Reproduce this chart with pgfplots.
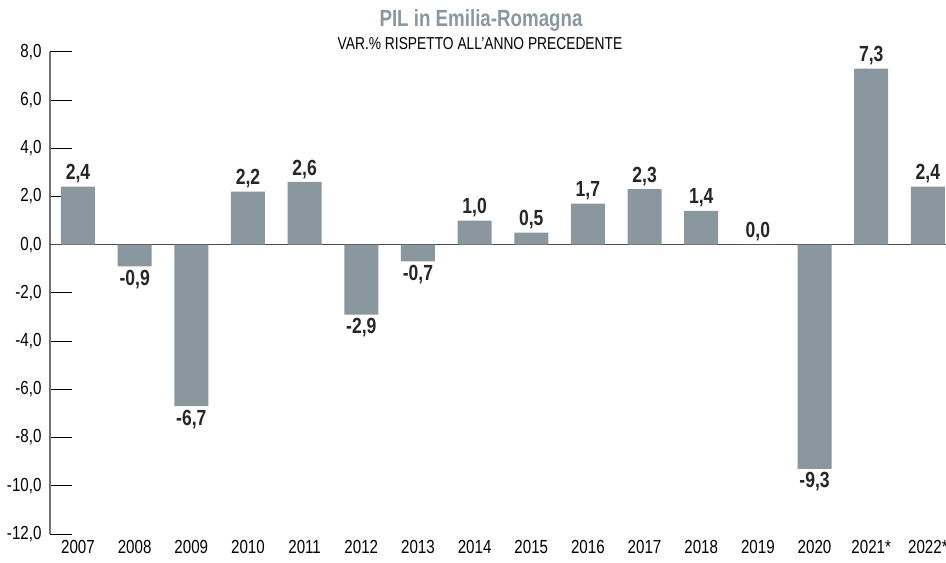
\documentclass[border=0pt]{standalone}
\usepackage{pgfplots}
\pgfplotsset{compat=1.18}
\usepackage{fontspec}
\setmainfont{Liberation Sans}[FakeStretch=0.8]
\definecolor{barc}{HTML}{8A979F}
\begin{document}
\begin{tikzpicture}
\begin{axis}[
  name=ax, at={(0,0)}, anchor=south west,
  scale only axis, width=896bp, height=482.3bp,
  xmin=-0.494, xmax=15.32, ymin=-12, ymax=8,
  axis y line*=left, axis x line*=bottom,
  x axis line style={draw=none},
  y axis line style={-, draw=black!55, line width=1.3pt},
  xtick={0,...,15},
  xticklabels={2007,2008,2009,2010,2011,2012,2013,2014,2015,2016,2017,2018,2019,2020,2021*,2022*},
  xtick style={draw=none},
  ytick={-12,-10,...,8},
  ytick style={draw=black, line width=0.8pt},
  tick align=inside, major tick length=22bp,
  /pgf/number format/assume math mode=true,
  yticklabel style={font=\fontsize{19}{19}\selectfont, xshift=-5bp, /pgf/number format/.cd, fixed, fixed zerofill, precision=1, use comma},
  xticklabel style={font=\fontsize{19}{19}\selectfont, anchor=north, yshift=19bp},
  ybar, bar width=0.6,
  nodes near coords,
  every node near coord/.append style={font=\bfseries\fontsize{22}{22}\selectfont, black!85, /pgf/number format/.cd, fixed, fixed zerofill, precision=1, use comma, assume math mode=true},
  clip=false,
]
\draw[line width=1pt, draw=black!70] (axis cs:-0.494,0) -- (axis cs:15.32,0);
\addplot[fill=barc, draw=none] coordinates {
 (0,2.4) (1,-0.9) (2,-6.7) (3,2.2) (4,2.6) (5,-2.9) (6,-0.7) (7,1.0)
 (8,0.5) (9,1.7) (10,2.3) (11,1.4) (12,0.0) (13,-9.3) (14,7.3) (15,2.4)};
\end{axis}
\node[anchor=base, font=\bfseries\fontsize{23.5}{23.5}\selectfont, text=barc] at ([xshift=431bp,yshift=24.7bp]ax.north west) {PIL in Emilia-Romagna};
\node[anchor=base, font=\fontsize{17.3}{17.3}\selectfont] at ([xshift=430bp,yshift=1.7bp]ax.north west) {VAR.\% RISPETTO ALL'ANNO PRECEDENTE};
\pgfresetboundingbox
\path[use as bounding box] ([xshift=-50bp,yshift=-29bp]ax.south west) rectangle ([yshift=51.7bp]ax.north east);
\end{tikzpicture}
\end{document}
